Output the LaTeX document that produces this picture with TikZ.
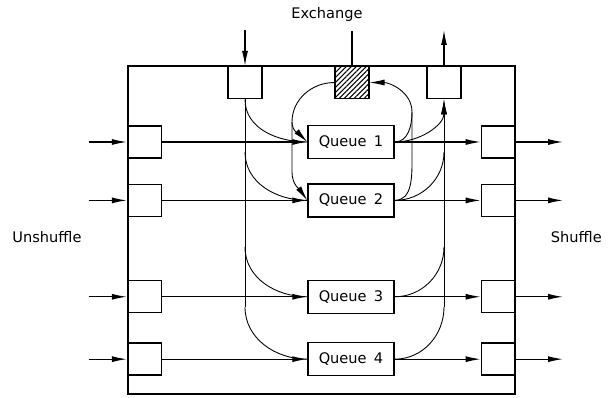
\documentclass[tikz,border=0pt]{standalone}
\usepackage{fontspec}
\setmainfont{DejaVu Sans}
\usetikzlibrary{arrows.meta,positioning,patterns.meta}

\begin{document}
\begin{tikzpicture}[x=0.02cm, y=-0.02cm, node distance=0.5cm,
    every node/.style={font=\fontsize{8.3}{10}\selectfont, align=center},
    cell/.style={draw, line width=0.8pt, minimum width=0.68cm, minimum height=0.64cm, inner sep=0pt},
    queuebox/.style={draw, line width=0.8pt, minimum width=1.72cm, minimum height=0.66cm, inner sep=0pt},
    flow/.style={-{Latex[length=3mm, width=1.2mm]}, line width=0.7pt},
    link/.style={line width=0.5pt},
    linkarr/.style={link, -{Latex[length=3mm, width=1.2mm]}}]
    \useasboundingbox (0,0) rectangle (610,398);
    \draw[line width=1.1pt] (128,66) rectangle (515,394);
    % the four queues
    \node[queuebox] (q1) at (351,142) {Queue\enspace 1};
    \node[queuebox, below=0.48cm of q1] (q2) {Queue\enspace 2};
    \node[queuebox, below=1.24cm of q2] (q3) {Queue\enspace 3};
    \node[queuebox, below=0.56cm of q3] (q4) {Queue\enspace 4};
    % input and output cells
    \node[cell, left=2.9cm of q1] (in1) {};
    \node[cell, left=2.9cm of q2] (in2) {};
    \node[cell, left=2.9cm of q3] (in3) {};
    \node[cell, left=2.9cm of q4] (in4) {};
    \node[cell, right=1.72cm of q1] (out1) {};
    \node[cell, right=1.72cm of q2] (out2) {};
    \node[cell, right=1.72cm of q3] (out3) {};
    \node[cell, right=1.72cm of q4] (out4) {};
    % cells on the top edge
    \node[cell, anchor=north] (xin) at (245,66) {};
    \node[cell, anchor=north, pattern={Lines[angle=45, distance=2pt, line width=0.6pt]}] (xch) at (352,66) {};
    \node[cell, anchor=north] (xout) at (444,66) {};
    % labels
    \node (exlbl) at (327,14) {Exchange};
    \node (unlbl) at (47,237) {Unshuffle};
    \node[anchor=east] (shlbl) at (608,237) {Shuffle};
    % free ends
    \coordinate[left=0.76cm of in1] (l1);
    \coordinate[left=0.76cm of in2] (l2);
    \coordinate[left=0.76cm of in3] (l3);
    \coordinate[left=0.76cm of in4] (l4);
    \coordinate[right=0.94cm of out1] (r1);
    \coordinate[right=0.94cm of out2] (r2);
    \coordinate[right=0.94cm of out3] (r3);
    \coordinate[right=0.94cm of out4] (r4);
    \coordinate[above=0.72cm of xin] (ti);
    \coordinate[above=0.70cm of xch] (te);
    \coordinate[above=0.72cm of xout] (tu);
    % straight flows
    \draw[flow] (l1) -- (in1);
    \draw[flow] (l2) -- (in2);
    \draw[flow] (l3) -- (in3);
    \draw[flow] (l4) -- (in4);
    \draw[flow] (in1) -- (q1);
    \draw[flow] (in2) -- (q2);
    \draw[flow] (in3) -- (q3);
    \draw[flow] (in4) -- (q4);
    \draw[flow] (q1) -- (out1);
    \draw[flow] (q2) -- (out2);
    \draw[flow] (q3) -- (out3);
    \draw[flow] (q4) -- (out4);
    \draw[flow] (out1) -- (r1);
    \draw[flow] (out2) -- (r2);
    \draw[flow] (out3) -- (r3);
    \draw[flow] (out4) -- (r4);
    \draw[flow] (ti) -- (xin);
    \draw[line width=0.7pt] (te) -- (xch);
    \draw[flow] (xout) -- (tu);
    % outer loop, left side
    \coordinate (a2) at (245,152);
    \coordinate (a3) at (245,247);
    \coordinate (a4) at (245,307);
    \draw[link] (xin.south) -- (a4);
    \draw[link] (xin.south) to[out=-90, in=180] (q1.west);
    \draw[link] (a2) to[out=-90, in=180] (q2.west);
    \draw[link] (a3) to[out=-90, in=180] (q3.west);
    \draw[link] (a4) to[out=-90, in=180] (q4.west);
    % outer loop, right side
    \coordinate (b2) at (444,152);
    \coordinate (b3) at (444,247);
    \coordinate (b4) at (444,307);
    \draw[linkarr] (b4) -- (xout.south);
    \draw[linkarr] (q1.east) to[out=0, in=-90] (xout.south);
    \draw[link] (q2.east) to[out=0, in=-90] (b2);
    \draw[link] (q3.east) to[out=0, in=-90] (b3);
    \draw[link] (q4.east) to[out=0, in=-90] (b4);
    % exchange loop
    \coordinate (c1) at (292,122);
    \coordinate (c2) at (292,172);
    \draw[link] (xch.west) to[out=180, in=90] (c1) -- (c2);
    \draw[linkarr] (c1) to[out=-90, in=135] (q1.west);
    \draw[linkarr] (c2) to[out=-90, in=125] (q2.west);
    \coordinate (d1) at (412,112);
    \coordinate (d2) at (412,158);
    \draw[linkarr] (d2) -- (d1) to[out=90, in=0] (xch.east);
    \draw[link] (q1.east) to[out=0, in=-90] (d1);
    \draw[link] (q2.east) to[out=0, in=-90] (d2);
\end{tikzpicture}
\end{document}
